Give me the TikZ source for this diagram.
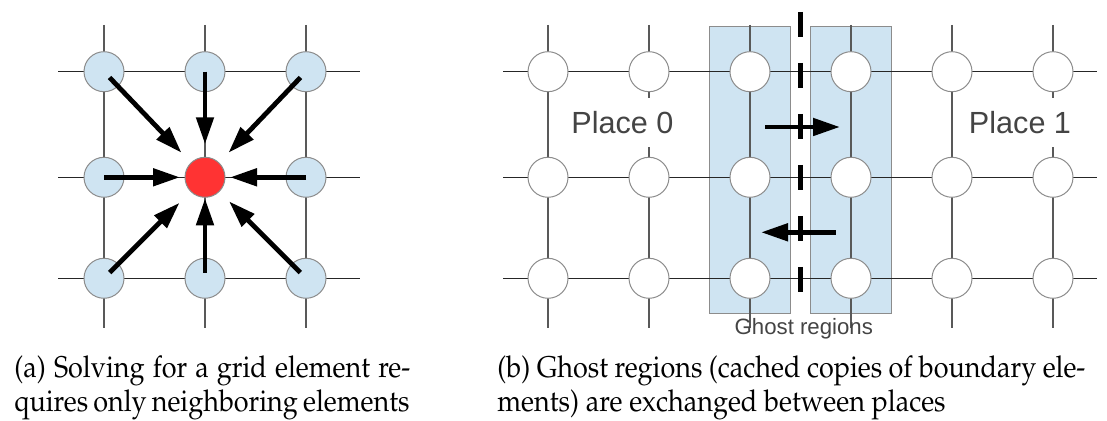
\documentclass[tikz,border=0pt]{standalone}
\usepackage[T1]{fontenc}
\usepackage{fontspec}
\usepackage{graphicx}
\usetikzlibrary{arrows.meta,calc}
\newfontfamily\lblfont{Liberation Sans}
\newcommand\palfont{\fontencoding{T1}\fontfamily{ppl}\selectfont}
\newcommand\capline[2]{\scalebox{0.9}[1]{\makebox[#1][s]{#2}}}
\definecolor{cellblue}{RGB}{207,228,242}
\definecolor{cellred}{RGB}{255,51,51}
\definecolor{edgegrey}{RGB}{140,140,140}
\definecolor{txtgrey}{RGB}{68,68,68}
\begin{document}
\begin{tikzpicture}[x=0.5pt,y=-0.5pt,
 hline/.style={line width=0.6pt, black!85},
 vline/.style={line width=0.6pt, black!65},
 cell/.style={circle, draw=edgegrey, line width=0.5pt, minimum size=20pt, inner sep=0pt},
 bluecell/.style={cell, fill=cellblue},
 redcell/.style={cell, fill=cellred},
 whitecell/.style={cell, fill=white},
 arr/.style={line width=2.4pt, -{Triangle[length=13.5pt,width=8.5pt]}},
 ghost/.style={draw=edgegrey, fill=cellblue, line width=0.5pt},
 placelbl/.style={font=\lblfont\fontsize{15.3}{18}\selectfont, text=txtgrey, fill=white, inner xsep=1pt, inner ysep=6.5pt, anchor=base},
 captxt/.style={font=\palfont\fontsize{15}{18}\selectfont, anchor=base west, inner sep=0pt},
]
\useasboundingbox (0,0) rectangle (1107,421);

% ---------- (a) ----------
\foreach \y in {71.7,177.3,278.3} \draw[hline] (58,\y) -- (360,\y);
\foreach \x in {104,205,306} \draw[vline] (\x,25) -- (\x,328);

\node[bluecell] (a11) at (104,71.7) {};
\node[bluecell] (a12) at (205,71.7) {};
\node[bluecell] (a13) at (306,71.7) {};
\node[bluecell] (a21) at (104,177.3) {};
\node[redcell]  (a22) at (205,177.3) {};
\node[bluecell] (a23) at (306,177.3) {};
\node[bluecell] (a31) at (104,278.3) {};
\node[bluecell] (a32) at (205,278.3) {};
\node[bluecell] (a33) at (306,278.3) {};

\draw[arr] ($(a11)!4pt!(a22)$) -- ($(a22)!17pt!(a11)$);
\draw[arr] (a12.center) -- ($(a22)!16.5pt!(a12)$);
\draw[arr] ($(a13)!4pt!(a22)$) -- ($(a22)!17pt!(a13)$);
\draw[arr] (a21.center) -- ($(a22)!12.5pt!(a21)$);
\draw[arr] (a23.center) -- ($(a22)!12.5pt!(a23)$);
\draw[arr] ($(a31)!4pt!(a22)$) -- ($(a22)!18pt!(a31)$);
\draw[arr] ($(a32)!2.8pt!(a22)$) -- ($(a22)!10.5pt!(a32)$);
\draw[arr] ($(a33)!4pt!(a22)$) -- ($(a22)!17pt!(a33)$);

% ---------- (b) ----------
\draw[ghost] (709.3,26.7) rectangle (790.5,313.7);
\draw[ghost] (810.5,26.7) rectangle (891.3,313.7);

\foreach \y in {71.7,177.3,278.3} \draw[hline] (503,\y) -- (1097,\y);
\foreach \x in {548,649,750,851,952,1053} \draw[vline] (\x,25) -- (\x,328);

\node[placelbl] (p0) at (622.5,133.3) {Place 0};
\node[placelbl] (p1) at (1020,133.3) {Place 1};

\foreach \c/\x in {1/548,2/649,3/750,4/851,5/952,6/1053}{
  \node[whitecell] (b1\c) at (\x,71.7) {};
  \node[whitecell] (b2\c) at (\x,177.3) {};
  \node[whitecell] (b3\c) at (\x,278.3) {};
}

\coordinate (dtop) at (800,12);
\coordinate (dbot) at (800,293);
\draw[line width=2.5pt, dash pattern=on 12.5pt off 13pt] (dtop) -- (dbot);

\coordinate (e1s) at (765,127);
\coordinate (e1e) at (840,127);
\coordinate (e2s) at (835.7,232.3);
\coordinate (e2e) at (761,232.3);
\draw[arr] (e1s) -- (e1e);
\draw[arr] (e2s) -- (e2e);

\node[font=\lblfont\fontsize{11.1}{13}\selectfont, text=txtgrey, anchor=base] (gl) at (803.8,335) {Ghost regions};

% ---------- captions ----------
\node[captxt] (ca1) at (14,378) {\capline{220pt}{(a) Solving for a grid element re-}};
\node[captxt] (ca2) at (14,412) {\capline{217.2pt}{quires only neighboring elements}};
\node[captxt] (cb1) at (497,378) {\capline{326.7pt}{(b) Ghost regions (cached copies of boundary ele-}};
\node[captxt] (cb2) at (497,412) {\scalebox{0.9}[1]{ments) are exchanged between places}};
\end{tikzpicture}
\end{document}
